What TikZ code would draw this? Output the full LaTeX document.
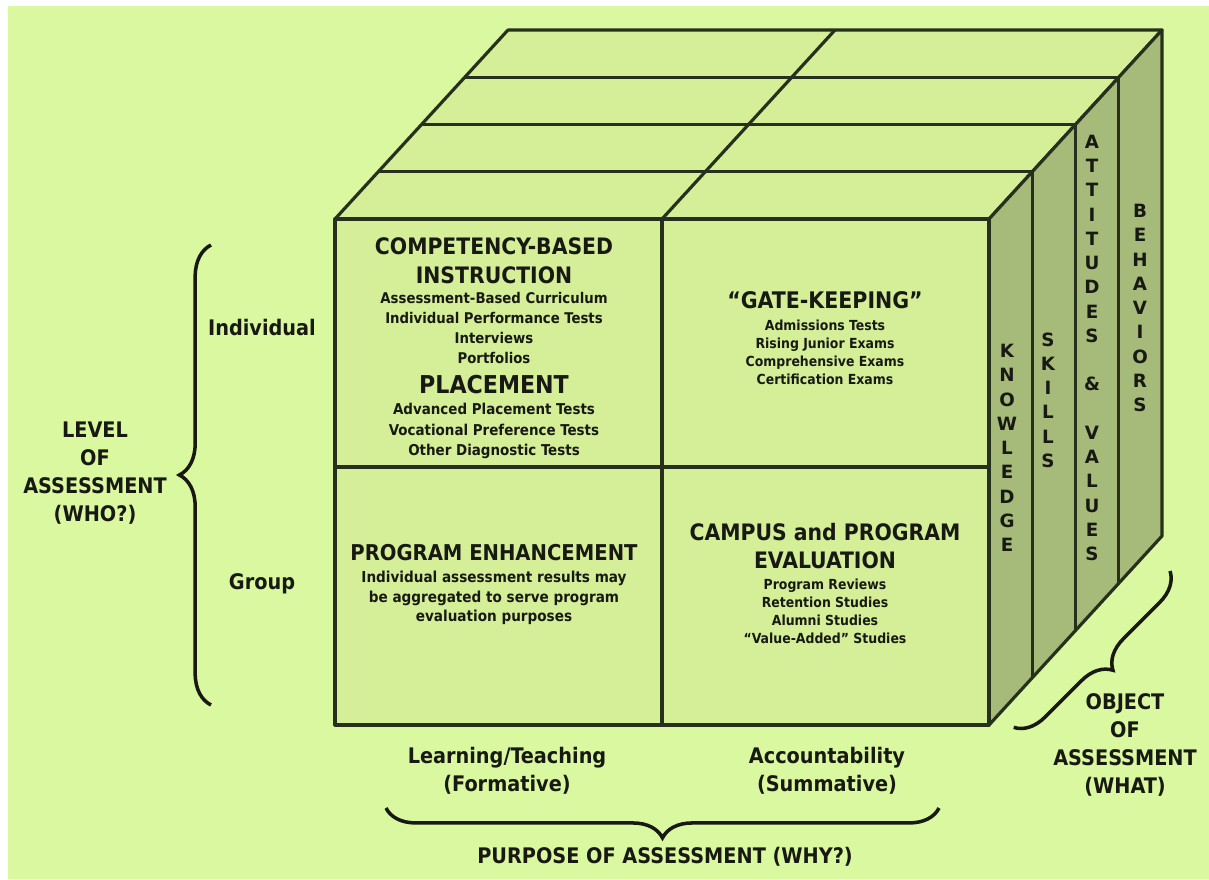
\documentclass[tikz,border=0pt]{standalone}
\usepackage{fontspec}
\setmainfont{DejaVu Sans Condensed}
\newfontfamily\widefont{DejaVu Sans}
\usetikzlibrary{calc,decorations.pathreplacing}
\definecolor{bg}{RGB}{218,248,160}
\definecolor{face}{RGB}{212,239,152}
\definecolor{side}{RGB}{166,186,121}
\definecolor{edge}{RGB}{38,48,28}
\definecolor{ink}{RGB}{25,25,20}
\tikzset{
  cube/.style={draw=edge,line width=1.8pt,line join=round},
  txt/.style={align=center,text=ink,inner sep=0pt},
  head/.style={txt,font=\bfseries\fontsize{#1}{16.4}\selectfont},
  head/.default=12.9,
  small/.style 2 args={txt,font=\bfseries\fontsize{#1}{#2}\selectfont},
  axislbl/.style={txt,font=\bfseries\fontsize{12.2}{15.8}\selectfont},
  letters/.style={txt,font=\widefont\bfseries\fontsize{10.4}{13.8}\selectfont},
  curly/.style={decorate,decoration={brace,amplitude=#1},line width=2pt,draw=ink}
}
\begin{document}
\begin{tikzpicture}[x=0.02cm,y=-0.02cm]
\useasboundingbox (0,0) rectangle (1209,879);
\fill[white] (0,0) rectangle (1209,879);
\fill[bg] (8,6) rectangle (1209,879);
\pgfmathsetmacro{\dX}{173}
\pgfmathsetmacro{\dY}{-189}
\coordinate (tl) at (335,219);
\coordinate (tm) at (662,219);
\coordinate (tr) at (989,219);
\coordinate (br) at (989,725);
% top and side faces
\filldraw[cube,fill=face] (tl)--++(\dX,\dY)--($(tr)+(\dX,\dY)$)--(tr)--cycle;
\foreach \k in {1,2,3}
  \draw[cube] ($(tl)+(\k*\dX/4,\k*\dY/4)$)--++(654,0);
\draw[cube] (tm)--++(\dX,\dY);
\filldraw[cube,fill=side] (tr)--++(\dX,\dY)--++(0,506)--(br)--cycle;
\foreach \k in {1,2,3}
  \draw[cube] ($(tr)+(\k*\dX/4,\k*\dY/4)$)--++(0,506);
% front face
\filldraw[cube,fill=face] (tl) rectangle (br);
\draw[cube] (tm)--(662,725);
\draw[cube] (335,467)--(989,467);

\node[head] (cbi) at (494,261) {COMPETENCY-BASED\\INSTRUCTION};
\node[small={8.4}{11.4}] (cbilist) at (494,328) {Assessment-Based Curriculum\\Individual Performance Tests\\Interviews\\Portfolios};
\node[head=14] (place) at (494,385) {PLACEMENT};
\node[small={8.5}{11.6}] (placelist) at (494,431) {Advanced Placement Tests\\Vocational Preference Tests\\Other Diagnostic Tests};
\node[head=13] (gate) at (825,300) {“GATE-KEEPING”};
\node[small={7.9}{10.3}] (gatelist) at (825,352) {Admissions Tests\\Rising Junior Exams\\Comprehensive Exams\\Certification Exams};
\node[head=12.4] (enh) at (494,553) {PROGRAM ENHANCEMENT};
\node[small={8.6}{11}] (enhtxt) at (494,598) {Individual assessment results may\\be aggregated to serve program\\evaluation purposes};
\node[head] (campus) at (825,546) {CAMPUS and PROGRAM\\EVALUATION};
\node[small={7.9}{10.3}] (campuslist) at (825,611) {Program Reviews\\Retention Studies\\Alumni Studies\\“Value-Added” Studies};

\node[letters] (know) at (1007,448) {K\\N\\O\\W\\L\\E\\D\\G\\E};
\node[letters] (skill) at (1048,400) {S\\K\\I\\L\\L\\S};
\node[letters] (attval) at (1092,348) {A\\T\\T\\I\\T\\U\\D\\E\\S\\[13.8pt]\&\\[13.8pt]V\\A\\L\\U\\E\\S};
\node[letters] (behav) at (1140,308) {B\\E\\H\\A\\V\\I\\O\\R\\S};

\node[axislbl] (indiv) at (262,328) {Individual};
\node[axislbl] (group) at (262,584) {Group};
\node[axislbl] (level) at (95,473) {LEVEL\\OF\\ASSESSMENT\\(WHO?)};
\node[axislbl] (learn) at (507,771) {Learning/Teaching\\(Formative)};
\node[axislbl] (account) at (827,771) {Accountability\\(Summative)};
\node[axislbl] (purpose) at (665,857) {PURPOSE OF ASSESSMENT (WHY?)};
\node[axislbl] (object) at (1125,745) {OBJECT\\OF\\ASSESSMENT\\(WHAT)};

\coordinate (lb) at (211,705);
\coordinate (lt) at (211,245);
\coordinate (pr) at (939,808);
\coordinate (pl) at (386,808);
\coordinate (ot) at (1170,571);
\coordinate (ob) at (1013,728);
\draw[curly=18pt] (lb)--(lt);
\draw[curly=17pt] (pr)--(pl);
\draw[curly=17pt] (ot)--(ob);
\end{tikzpicture}
\end{document}
